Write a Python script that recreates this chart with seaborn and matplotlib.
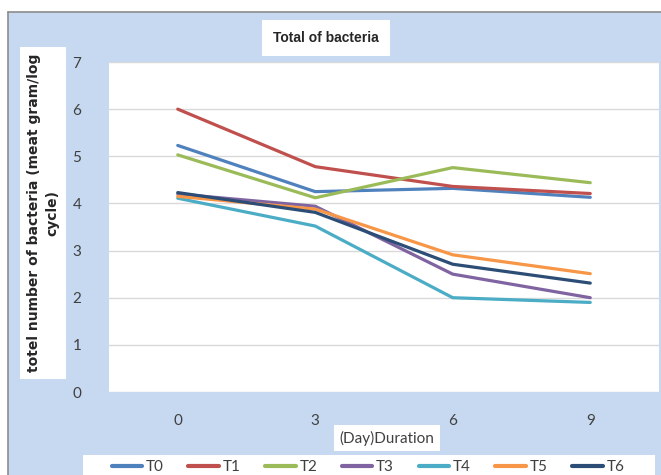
import matplotlib
matplotlib.use("Agg")
import matplotlib.pyplot as plt
from matplotlib.patches import Rectangle
import seaborn as sns
import pandas as pd

days = [0, 3, 6, 9]
series_names = ["T0", "T1", "T2", "T3", "T4", "T5", "T6"]
T0 = [5.23, 4.25, 4.32, 4.13]
T1 = [6.00, 4.78, 4.36, 4.21]
T2 = [5.03, 4.12, 4.76, 4.44]
T3 = [4.20, 3.94, 2.50, 2.00]
T4 = [4.11, 3.52, 2.00, 1.90]
T5 = [4.15, 3.88, 2.91, 2.51]
T6 = [4.23, 3.81, 2.71, 2.31]
colors = ["#4F81BD", "#C0504D", "#9BBB59", "#8064A2", "#4BACC6", "#F79646", "#2C4D75"]
title_text = "Total of bacteria"
x_label = "(Day)Duration"
y_label = "totel number of bacteria (meat gram/log\ncycle)"
y_ticks = [0, 1, 2, 3, 4, 5, 6, 7]

values = [T0, T1, T2, T3, T4, T5, T6]
rows = []
for name, vals in zip(series_names, values):
    for d, v in zip(days, vals):
        rows.append({"Day": d, "Value": v, "Series": name})
df = pd.DataFrame(rows)

sns.set_style("white")
plt.rcParams["font.family"] = ["Lato", "DejaVu Sans"]

W, H = 661, 475
fig = plt.figure(figsize=(W / 100, H / 100), dpi=100)
fig.patch.set_facecolor("white")

BLUE = "#C6D9F1"
# chart background
fig.patches.append(Rectangle((8 / W, 0), 1 - 8 / W, (H - 12) / H, transform=fig.transFigure,
                             facecolor=BLUE, edgecolor="none", zorder=-10))
# legend background box
fig.patches.append(Rectangle((83 / W, 0), (655 - 83) / W, 20 / H, transform=fig.transFigure,
                             facecolor="white", edgecolor="none", zorder=-4))
# border lines top and left
fig.lines.append(plt.Line2D([8 / W, 1], [(H - 12) / H, (H - 12) / H], transform=fig.transFigure,
                            color="#8C8C8C", lw=1.2, zorder=-5))
fig.lines.append(plt.Line2D([8 / W, 8 / W], [0, (H - 12) / H], transform=fig.transFigure,
                            color="#8C8C8C", lw=1.2, zorder=-5))

ax = fig.add_axes([109 / W, (H - 392) / H, (659 - 109) / W, (392 - 62) / H])
ax.set_facecolor("white")
sns.lineplot(data=df, x="Day", y="Value", hue="Series", palette=dict(zip(series_names, colors)),
             linewidth=2.3, ax=ax, legend=True)
ax.set_xlim(-1.5, 10.5)
ax.set_ylim(0, 7)
ax.set_xticks(days)
ax.set_xticklabels([str(d) for d in days])
ax.set_yticks(y_ticks)
ax.yaxis.grid(True, color="#D9D9D9", lw=1)
ax.xaxis.grid(False)
for s in ax.spines.values():
    s.set_visible(False)
ax.tick_params(axis="both", length=0, labelsize=11, colors="#404040")
ax.tick_params(axis="y", pad=20)
ax.tick_params(axis="x", pad=16)
ax.set_xlabel("")
ax.set_ylabel("")

handles, labels = ax.get_legend_handles_labels()
ax.get_legend().remove()

# title
fig.text(326 / W, 1 - 38 / H, title_text, ha="center", va="center", fontsize=10,
         fontweight="bold", family="Liberation Sans",
         bbox=dict(facecolor="white", edgecolor="none", pad=8))
# y label
fig.text(43 / W, 1 - 213 / H, y_label, ha="center", va="center", rotation=90, fontsize=10,
         fontweight="bold", family="DejaVu Sans", linespacing=1.35,
         bbox=dict(facecolor="white", edgecolor="none", boxstyle="square,pad=0.5"))
# x label
fig.text(387 / W, 1 - 438 / H, x_label, ha="center", va="center", fontsize=11,
         color="#404040", bbox=dict(facecolor="white", edgecolor="none", pad=4))

leg = fig.legend(handles, labels, loc="center", bbox_to_anchor=(368 / W, 8 / H),
                 ncol=7, frameon=False, fontsize=11, handlelength=2.0, handletextpad=0.25,
                 columnspacing=1.6, borderpad=0.0, borderaxespad=0.0)
for t in leg.get_texts():
    t.set_color("#404040")
for l in leg.get_lines():
    l.set_linewidth(3)

fig.savefig("out.png", dpi=100, facecolor=fig.get_facecolor())
